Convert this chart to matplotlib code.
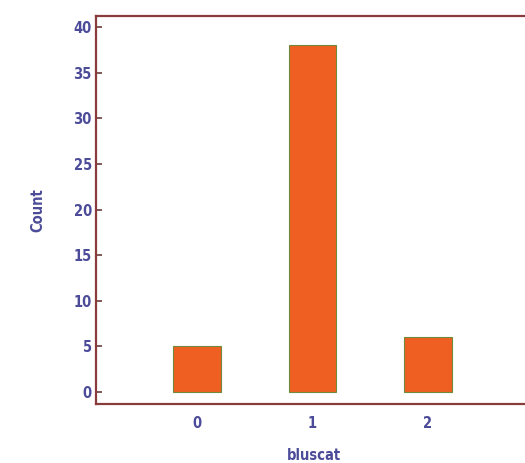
import matplotlib
matplotlib.use('Agg')
from matplotlib import pyplot as plt

# counts per bluscat group
cats = [0, 1, 2]
counts = [5, 38, 6]
yticks = [0, 5, 10, 15, 20, 25, 30, 35, 40]

plt.rcParams['font.family'] = ['DejaVu Sans']
plt.rcParams['font.stretch'] = 'condensed'
plt.rcParams['font.weight'] = 'bold'
plt.rcParams['axes.labelweight'] = 'bold'

fig = plt.figure(figsize=(5.25, 4.63), dpi=100)
ax = fig.add_axes([96/525, 59/463, 436/525, 388/463])

ax.bar(cats, counts, width=0.41, color='#ef5f22', edgecolor='#6f8a3a', linewidth=0.8)

ax.set_xlim(-0.874, 2.9)
ax.set_ylim(-1.3, 41.2)
ax.set_xticks(cats)
ax.set_yticks(yticks)

spine_col = '#8a3b3b'
for s in ax.spines.values():
    s.set_color(spine_col)
    s.set_linewidth(1.6)

ax.tick_params(axis='y', direction='in', length=4, width=1.2, color='#6a3b3b',
               labelcolor='#4b4b99', labelsize=10.5, pad=3)
ax.tick_params(axis='x', length=0, labelcolor='#4b4b99', labelsize=10.5, pad=9)

ax.set_ylabel('Count', color='#4b4b99', fontsize=10.5, labelpad=20)
ax.set_xlabel('bluscat', color='#4b4b99', fontsize=10.5, labelpad=12)

fig.savefig('out.png', dpi=100)
